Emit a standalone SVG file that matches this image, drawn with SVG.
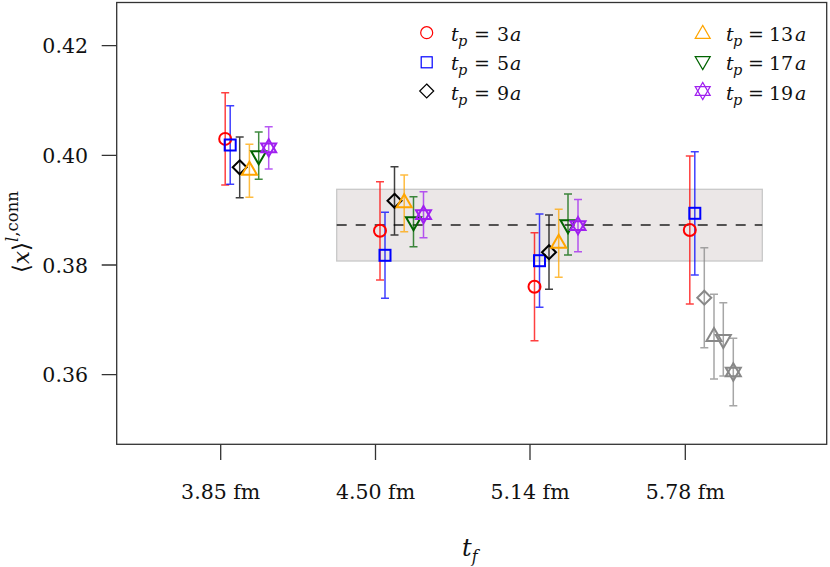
<svg xmlns="http://www.w3.org/2000/svg" xmlns:xlink="http://www.w3.org/1999/xlink" width="830" height="567" viewBox="0 0 830 567">
<style>
text{font-family:"DejaVu Serif","Liberation Serif",serif}
.tick{font-size:20.5px}
.it{font-style:italic}
.leg{font-size:19px}
.axis{stroke:#333;stroke-width:1.3;fill:none}
.mk{fill:none;stroke-width:2}
.lm{fill:none;stroke-width:1.2}
.eb{fill:none;stroke-width:1.5;stroke-opacity:0.75}
</style>
<defs>
<circle id="c" r="6"/>
<rect id="s" x="-5.5" y="-5.5" width="11" height="11"/>
<polygon id="d" points="0,-7 7,0 0,7 -7,0"/>
<polygon id="u" points="0,-8.66 7.5,4.33 -7.5,4.33"/>
<polygon id="v" points="0,8.66 7.5,-4.33 -7.5,-4.33"/>
<g id="x"><polygon points="0,-8.66 7.5,4.33 -7.5,4.33"/><polygon points="0,8.66 7.5,-4.33 -7.5,-4.33"/></g>
</defs>

<g id="band">
<rect x="336.7" y="189.3" width="425.6" height="71.7" fill="#ebe7e7" stroke="#c8c8c8" stroke-width="1.3"/>
<line x1="336.7" y1="225" x2="762.3" y2="225" stroke="#222" stroke-width="1.3" stroke-dasharray="10 9"/>
</g>

<g id="axes" fill="#111">
<rect class="axis" x="116.7" y="2.5" width="710" height="441.8"/>
<path class="axis" d="M101.7 45.7H116.7M101.7 155.3H116.7M101.7 265H116.7M101.7 374.7H116.7M220.7 444.3V460M375.5 444.3V460M530 444.3V460M685.3 444.3V460"/>
<text class="tick" x="88" y="53" text-anchor="end">0.42</text>
<text class="tick" x="88" y="162.5" text-anchor="end">0.40</text>
<text class="tick" x="88" y="272.5" text-anchor="end">0.38</text>
<text class="tick" x="88" y="382" text-anchor="end">0.36</text>
<text class="tick" x="220.7" y="499" text-anchor="middle">3.85 fm</text>
<text class="tick" x="375.5" y="499" text-anchor="middle">4.50 fm</text>
<text class="tick" x="530" y="499" text-anchor="middle">5.14 fm</text>
<text class="tick" x="685.3" y="499" text-anchor="middle">5.78 fm</text>
<text x="462" y="556" font-size="24" class="it">t<tspan font-size="16" dy="6">f</tspan></text>
<text transform="translate(29,273) rotate(-90)" font-size="23">⟨<tspan class="it">x</tspan>⟩<tspan font-size="16.5" dy="-11"><tspan class="it">l</tspan>,conn</tspan></text>
</g>

<g id="errorbars">
<path class="eb" stroke="#ff0000" d="M225.2 92.7V185M221.2 92.7H229.2M221.2 185H229.2 M380 181.7V280M376 181.7H384M376 280H384 M534.5 232.7V340.7M530.5 232.7H538.5M530.5 340.7H538.5 M689.8 156V304M685.8 156H693.8M685.8 304H693.8"/>
<path class="eb" stroke="#0000ff" d="M230.2 105.7V184.3M226.2 105.7H234.2M226.2 184.3H234.2 M385 212.3V298.3M381 212.3H389M381 298.3H389 M539.5 214V307.3M535.5 214H543.5M535.5 307.3H543.5 M694.8 151.7V275M690.8 151.7H698.8M690.8 275H698.8"/>
<path class="eb" stroke="#000000" d="M239.7 137V197.7M235.7 137H243.7M235.7 197.7H243.7 M394.5 166.7V235M390.5 166.7H398.5M390.5 235H398.5 M549 215V289.3M545 215H553M545 289.3H553"/>
<path class="eb" stroke="#ffa500" d="M249.4 144.3V197.3M245.4 144.3H253.4M245.4 197.3H253.4 M404.2 175V231.7M400.2 175H408.2M400.2 231.7H408.2 M558.7 209.3V277.3M554.7 209.3H562.7M554.7 277.3H562.7"/>
<path class="eb" stroke="#006400" d="M258.7 132V179.3M254.7 132H262.7M254.7 179.3H262.7 M413.5 196.7V246.7M409.5 196.7H417.5M409.5 246.7H417.5 M568 194V255M564 194H572M564 255H572"/>
<path class="eb" stroke="#a020f0" d="M268.7 126.7V169M264.7 126.7H272.7M264.7 169H272.7 M423.5 191.7V237.7M419.5 191.7H427.5M419.5 237.7H427.5 M578 199.5V251.7M574 199.5H582M574 251.7H582"/>
<path class="eb" stroke="#888888" d="M704.3 247.7V347.7M700.3 247.7H708.3M700.3 347.7H708.3 M714 294.3V379M710 294.3H718M710 379H718 M723.3 302.7V376M719.3 302.7H727.3M719.3 376H727.3 M733.3 338.3V405.7M729.3 338.3H737.3M729.3 405.7H737.3"/>
</g>

<g id="tp3" class="mk" stroke="#ff0000">
<use xlink:href="#c" x="225.2" y="138.9"/><use xlink:href="#c" x="380" y="230.8"/><use xlink:href="#c" x="534.5" y="286.7"/><use xlink:href="#c" x="689.8" y="230"/>
</g>
<g id="tp5" class="mk" stroke="#0000ff">
<use xlink:href="#s" x="230.2" y="145"/><use xlink:href="#s" x="385" y="255.3"/><use xlink:href="#s" x="539.5" y="260.7"/><use xlink:href="#s" x="694.8" y="213.3"/>
</g>
<g id="tp9" class="mk" stroke="#000000">
<use xlink:href="#d" x="239.7" y="167.3"/><use xlink:href="#d" x="394.5" y="200.8"/><use xlink:href="#d" x="549" y="252.2"/>
</g>
<g id="tp13" class="mk" stroke="#ffa500">
<use xlink:href="#u" x="249.4" y="170.3"/><use xlink:href="#u" x="404.2" y="203"/><use xlink:href="#u" x="558.7" y="243.3"/>
</g>
<g id="tp17" class="mk" stroke="#006400">
<use xlink:href="#v" x="258.7" y="155.7"/><use xlink:href="#v" x="413.5" y="221.7"/><use xlink:href="#v" x="568" y="224.5"/>
</g>
<g id="tp19" class="mk" stroke="#a020f0">
<use xlink:href="#x" x="268.7" y="147.8"/><use xlink:href="#x" x="423.5" y="214.7"/><use xlink:href="#x" x="578" y="225.7"/>
</g>
<g id="gray" class="mk" stroke="#888888">
<use xlink:href="#d" x="704.3" y="297.7"/><use xlink:href="#u" x="714" y="336.7"/><use xlink:href="#v" x="723.3" y="339.3"/><use xlink:href="#x" x="733.3" y="372"/>
</g>

<g id="legend" fill="#111">
<use xlink:href="#c" class="lm" stroke="#ff0000" x="426.7" y="32.7"/>
<use xlink:href="#s" class="lm" stroke="#0000ff" x="426.7" y="62.3"/>
<use xlink:href="#d" class="lm" stroke="#000000" x="426.7" y="91"/>
<use xlink:href="#u" class="lm" stroke="#ffa500" x="702.7" y="34"/>
<use xlink:href="#v" class="lm" stroke="#006400" x="702.7" y="61"/>
<use xlink:href="#x" class="lm" stroke="#a020f0" x="702.7" y="91"/>
<text class="leg" y="41"><tspan class="it" x="451">t</tspan><tspan class="it" x="458" dy="5" font-size="14.5">p</tspan><tspan x="474" dy="-5">=</tspan><tspan x="497">3</tspan><tspan class="it" x="510">a</tspan></text>
<text class="leg" y="70.3"><tspan class="it" x="451">t</tspan><tspan class="it" x="458" dy="5" font-size="14.5">p</tspan><tspan x="474" dy="-5">=</tspan><tspan x="497">5</tspan><tspan class="it" x="510">a</tspan></text>
<text class="leg" y="99.6"><tspan class="it" x="451">t</tspan><tspan class="it" x="458" dy="5" font-size="14.5">p</tspan><tspan x="474" dy="-5">=</tspan><tspan x="497">9</tspan><tspan class="it" x="510">a</tspan></text>
<text class="leg" y="41"><tspan class="it" x="726">t</tspan><tspan class="it" x="733" dy="5" font-size="14.5">p</tspan><tspan x="748" dy="-5">=</tspan><tspan x="769">13</tspan><tspan class="it" x="795">a</tspan></text>
<text class="leg" y="70.3"><tspan class="it" x="726">t</tspan><tspan class="it" x="733" dy="5" font-size="14.5">p</tspan><tspan x="748" dy="-5">=</tspan><tspan x="769">17</tspan><tspan class="it" x="795">a</tspan></text>
<text class="leg" y="99.6"><tspan class="it" x="726">t</tspan><tspan class="it" x="733" dy="5" font-size="14.5">p</tspan><tspan x="748" dy="-5">=</tspan><tspan x="769">19</tspan><tspan class="it" x="795">a</tspan></text>
</g>
</svg>
